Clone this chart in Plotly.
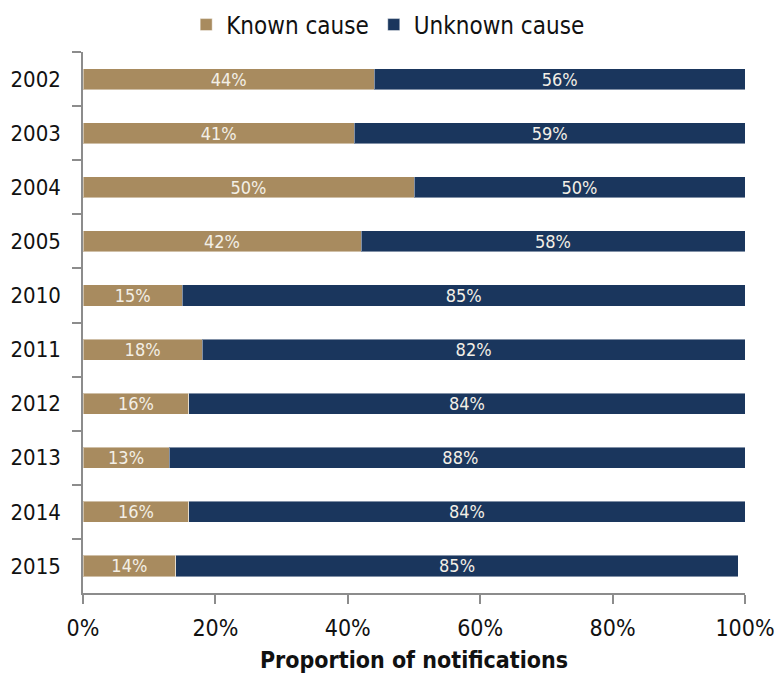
import plotly.graph_objects as go

# Share of notifications by year, split by whether the cause is known
years = ["2002", "2003", "2004", "2005", "2010", "2011", "2012", "2013", "2014", "2015"]
known_cause = [44, 41, 50, 42, 15, 18, 16, 13, 16, 14]
unknown_cause = [56, 59, 50, 58, 85, 82, 84, 88, 84, 85]
x_ticks = [0, 20, 40, 60, 80, 100]
x_tick_labels = ["0%", "20%", "40%", "60%", "80%", "100%"]

TAN = "#a88b5f"
NAVY = "#1a365d"
FONT = "DejaVu Sans Condensed, Liberation Sans, sans-serif"
EDGE = dict(color="rgba(255,255,255,0.45)", width=1)
LABEL_FONT = dict(color="#f3efe6", size=18, family=FONT)

fig = go.Figure()
for name, vals, col in [("Known cause", known_cause, TAN),
                        ("Unknown cause", unknown_cause, NAVY)]:
    fig.add_trace(go.Bar(
        y=years, x=vals, orientation="h", name=name,
        marker=dict(color=col, line=EDGE),
        text=[f"{v}%" for v in vals], textposition="inside",
        insidetextanchor="middle", constraintext="none",
        textfont=LABEL_FONT,
    ))

axis_line = dict(showline=True, linecolor="#8c8c8c", linewidth=1.5,
                 ticks="outside", tickcolor="#8c8c8c", tickwidth=1.5,
                 ticklen=9, showgrid=False, zeroline=False, automargin=False)

fig.update_layout(
    width=776, height=678,
    barmode="stack", bargap=0.61,
    plot_bgcolor="white", paper_bgcolor="white",
    margin=dict(l=83, r=31, t=52, b=85),
    font=dict(family=FONT, color="#111111", size=22),
    legend=dict(orientation="h", x=0.461, xanchor="center",
                y=1 - 25 / 678, yanchor="middle", yref="container",
                font=dict(size=24), itemclick=False, traceorder="normal",
                bgcolor="rgba(0,0,0,0)"),
    xaxis=dict(range=[0, 100], tickvals=x_ticks, ticktext=x_tick_labels,
               tickfont=dict(size=23), ticklabeloverflow="allow",
               ticklabelstandoff=5,
               title=dict(text="<b>Proportion of notifications</b>",
                          font=dict(size=23), standoff=12),
               **axis_line),
    yaxis=dict(type="category", autorange="reversed",
               tickson="boundaries", tickfont=dict(size=22),
               ticklabelstandoff=16, **axis_line),
)

fig.write_html("out.html")
